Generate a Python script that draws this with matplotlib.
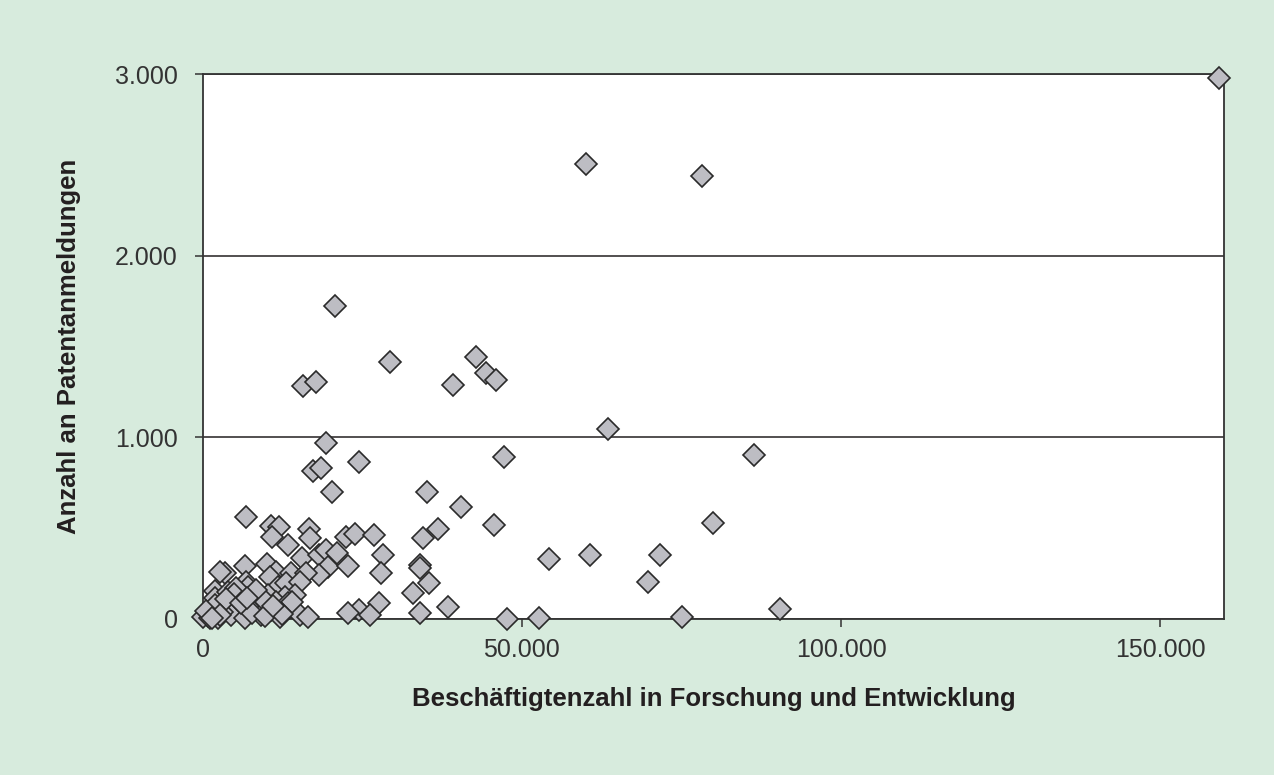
"""
Patentanmeldungen vs. F&E-Beschäftigte, scatter mit Rauten.
"""
import matplotlib; matplotlib.use("Agg")
import matplotlib.pyplot as plt

BG = "#d7ebdd"; FILL = "#bdbdc3"; INK = "#231f20"

# F&E-Beschäftigte (x) und Patentanmeldungen (y)
fue = [159200, 60000, 78200, 20700, 29300, 15800, 17700, 39200, 42800, 44400,
       46000, 63500, 19400, 47200, 24500, 17300, 18600, 20200, 35200, 86400,
       40400, 36800, 34500, 45700, 80000, 34100, 34000, 35400, 32900, 54200,
       60700, 71700, 69700, 34000, 38400, 47600, 52700, 75000, 90400,
       6850, 10700, 11900, 10900, 13400, 16600, 16800, 15500, 18200, 19300,
       21100, 19600, 18300, 22800, 22500, 23900, 26800, 28200, 28000, 27600,
       24500, 26200, 22800,
       3450, 2660, 6580, 10100, 11500, 13900, 16200, 1980, 6850, 10500,
       11800, 13100, 15200, 14400, 12850, 10200, 8150, 6300, 4200, 5800,
       8900, 11500, 13400, 12850, 10700, 7400, 3200, 1600, 800, 0,
       2400, 4500, 6600, 9200, 12100, 15200, 16500, 1900, 7100, 4000,
       5200, 9600, 3000, 1200, 2000, 5000, 7800, 8400, 14000, 600,
       3600, 9800, 12500, 6000, 2800, 11000, 7000, 1400]
patente = [2980, 2505, 2440, 1725, 1416, 1280, 1306, 1286, 1440, 1355,
           1317, 1048, 969, 890, 864, 813, 830, 700, 700, 905,
           615, 496, 447, 516, 526, 297, 280, 200, 145, 330,
           355, 350, 205, 31, 64, 0, 4, 9, 53,
           562, 511, 507, 452, 405, 493, 447, 337, 352, 379,
           361, 288, 242, 291, 452, 467, 462, 352, 254, 90,
           49, 22, 31,
           254, 260, 291, 302, 260, 251, 251, 156, 205, 232,
           177, 196, 205, 132, 123, 132, 141, 123, 104, 68,
           77, 95, 86, 49, 49, 59, 59, 31, 16, 13,
           4, 22, 4, 22, 13, 22, 13, 114, 177, 150,
           170, 105, 40, 8, 75, 140, 35, 160, 95, 45,
           110, 15, 30, 90, 20, 70, 115, 5]

plt.rcParams["font.family"] = ["Liberation Sans", "DejaVu Sans"]

fig = plt.figure(figsize=(12.74, 7.75), dpi=100, facecolor=BG)
ax = fig.add_axes([0.159, 0.2013, 0.802, 0.7032])
ax.set_facecolor("white")

ax.plot(fue, patente, ls="none", marker="D", ms=11.5, mfc=FILL, mec="#2a2a2a",
        mew=1.2, clip_on=False, zorder=3)

ax.set_xlim(0, 160000); ax.set_ylim(0, 3000)
ax.set_xticks([0, 50000, 100000, 150000])
ax.set_xticklabels(["0", "50.000", "100.000", "150.000"])
ax.set_yticks([0, 1000, 2000, 3000])
ax.set_yticklabels(["0", "1.000", "2.000", "3.000"])
ax.grid(axis="y", color=INK, lw=1.1, zorder=1)
for s in ax.spines.values():
    s.set_color("#333333"); s.set_linewidth(1.3)
ax.tick_params(direction="out", length=6, width=1.1, color="#333333",
               labelsize=18, labelcolor="#333333")
ax.tick_params(axis="y", pad=12)
ax.tick_params(axis="x", pad=8)

ax.set_xlabel("Beschäftigtenzahl in Forschung und Entwicklung", fontsize=18.5,
              fontweight="bold", color=INK, labelpad=18)
ax.set_ylabel("Anzahl an Patentanmeldungen", fontsize=18.5, fontweight="bold",
              color=INK, labelpad=24)

fig.savefig("out.png", dpi=100, facecolor=BG)
